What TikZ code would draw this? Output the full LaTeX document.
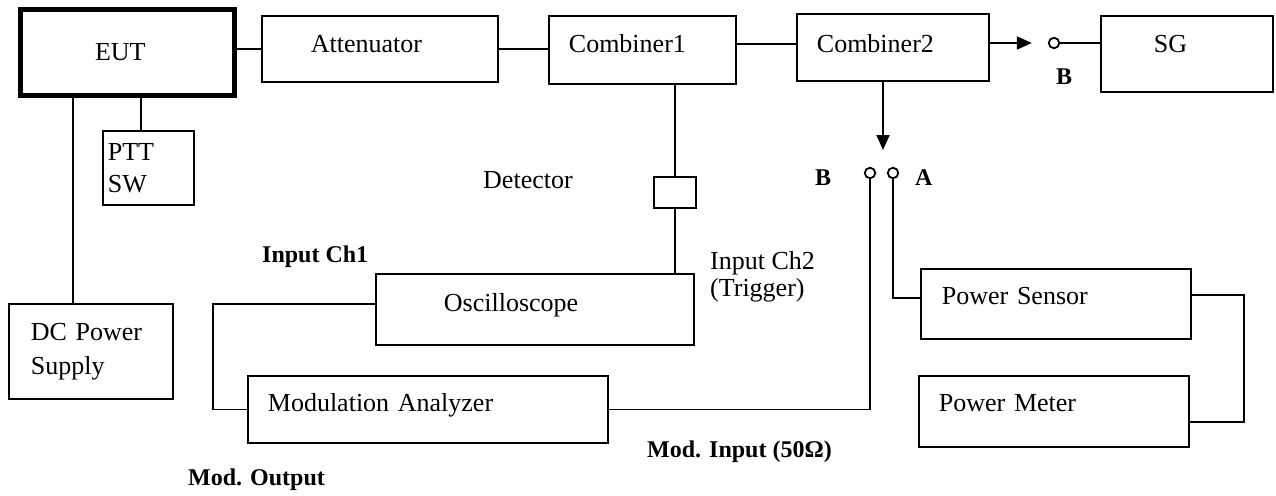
\documentclass[tikz,border=0pt]{standalone}
\usepackage{fontspec}
\setmainfont{Liberation Serif}
\usetikzlibrary{arrows.meta}

\begin{document}
\begin{tikzpicture}[x=1pt, y=-1pt, font=\fontsize{26}{32}\selectfont,
  box/.style={draw, line width=1.8pt, anchor=north west, align=left, inner ysep=0pt},
  lift/.style={text height=20pt, text depth=#1},
  wire/.style={line width=1.8pt},
  feed/.style={wire, -{Triangle[length=15pt, width=13pt]}},
  port/.style={circle, draw, line width=1.8pt, minimum size=10.5pt, inner sep=0pt},
  lbl/.style={anchor=west, inner sep=0pt},
  tag/.style={lbl, font=\fontsize{24}{28}\selectfont\bfseries}]
\useasboundingbox (0,0) rectangle (1276,495);
\node[box, line width=5pt, minimum width=214pt, minimum height=85pt, inner xsep=75pt, text width=64pt] (eut) at (17.5,7.5) {EUT};
\node[box, minimum width=91pt, minimum height=74pt, inner xsep=5pt, text width=81pt] (ptt) at (102,130) {PTT\\SW};
\node[box, font=\fontsize{26}{34}\selectfont, minimum width=164pt, minimum height=95pt, inner xsep=22pt, text width=120pt] (dc) at (8,303) {DC Power\\Supply};
\node[box, lift=12.8pt, minimum width=236pt, minimum height=66pt, inner xsep=49pt, text width=138pt] (att) at (261,15) {Attenuator};
\node[box, lift=14.8pt, minimum width=187pt, minimum height=68pt, inner xsep=20pt, text width=147pt] (comb1) at (548,15) {Combiner1};
\node[box, lift=9.8pt, minimum width=192pt, minimum height=67pt, inner xsep=20pt, text width=152pt] (comb2) at (796,13) {Combiner2};
\node[box, lift=22.8pt, minimum width=172pt, minimum height=76pt, inner xsep=53pt, text width=66pt] (sg) at (1100,15) {SG};
\node[box, minimum width=42pt, minimum height=31pt, inner xsep=0pt] (det) at (653,176) {};
\node[box, lift=15.8pt, minimum width=318pt, minimum height=71pt, inner xsep=68pt, text width=182pt] (osc) at (375,273) {Oscilloscope};
\node[box, lift=15.8pt, minimum width=360pt, minimum height=67pt, inner xsep=20pt, text width=320pt] (mod) at (247,375) {Modulation Analyzer};
\node[box, lift=18.8pt, minimum width=270pt, minimum height=70pt, inner xsep=21pt, text width=228pt] (ps) at (920,268) {Power Sensor};
\node[box, lift=19.8pt, minimum width=270pt, minimum height=71pt, inner xsep=20pt, text width=230pt] (pm) at (918,375) {Power Meter};
\node[port] (sgport) at (1054,43) {};
\node[port] (portB) at (870,173) {};
\node[port] (portA) at (893,173) {};
\coordinate (swtip) at (883,150);
\coordinate (rfline) at ([yshift=3.5pt]comb2.west);
\coordinate (pttin) at ([xshift=-7.5pt]ptt.north);
\coordinate (dcin) at ([xshift=-18pt]dc.north);
\draw[wire] (att.west -| eut.east) -- (att.west);
\draw[wire] (att.east) -- (att.east -| comb1.west);
\draw[wire] (rfline -| comb1.east) -- (rfline);
\draw[feed, shorten >=16pt] (sgport -| comb2.east) -- (sgport.west);
\draw[wire] (sgport.east) -- (sgport -| sg.west);
\draw[feed] (comb2.south -| swtip) -- (swtip);
\draw[wire] (pttin |- eut.south) -- (pttin);
\draw[wire] (dcin |- eut.south) -- (dcin);
\draw[wire] (comb1.south -| det.north) -- (det.north);
\draw[wire] (det.south) -- (det.south |- osc.north);
\draw[wire] ([yshift=5.5pt]osc.west) -- ++(-162,0) |- (mod.west);
\draw[wire] (portB.south) |- (mod.east);
\draw[wire] (portA.south) |- ([yshift=6pt]ps.west);
\draw[wire] ([yshift=9pt]ps.east) -- ++(52,0) |- ([yshift=-10.5pt]pm.east);
\node[lbl] (detlbl) at (483,180) {Detector};
\node[tag] (ch1) at (262,257) {Input Ch1};
\node[lbl, align=left, font=\fontsize{26}{27}\selectfont] (ch2) at (710,277) {Input Ch2\\(Trigger)};
\node[tag] (modout) at (188,480) {Mod. Output};
\node[tag] (modin) at (647,452) {Mod. Input (50Ω)};
\node[tag] (sgB) at (1056,77) {B};
\node[tag] (swBlbl) at (815,178) {B};
\node[tag] (swAlbl) at (915,178) {A};
\end{tikzpicture}
\end{document}
